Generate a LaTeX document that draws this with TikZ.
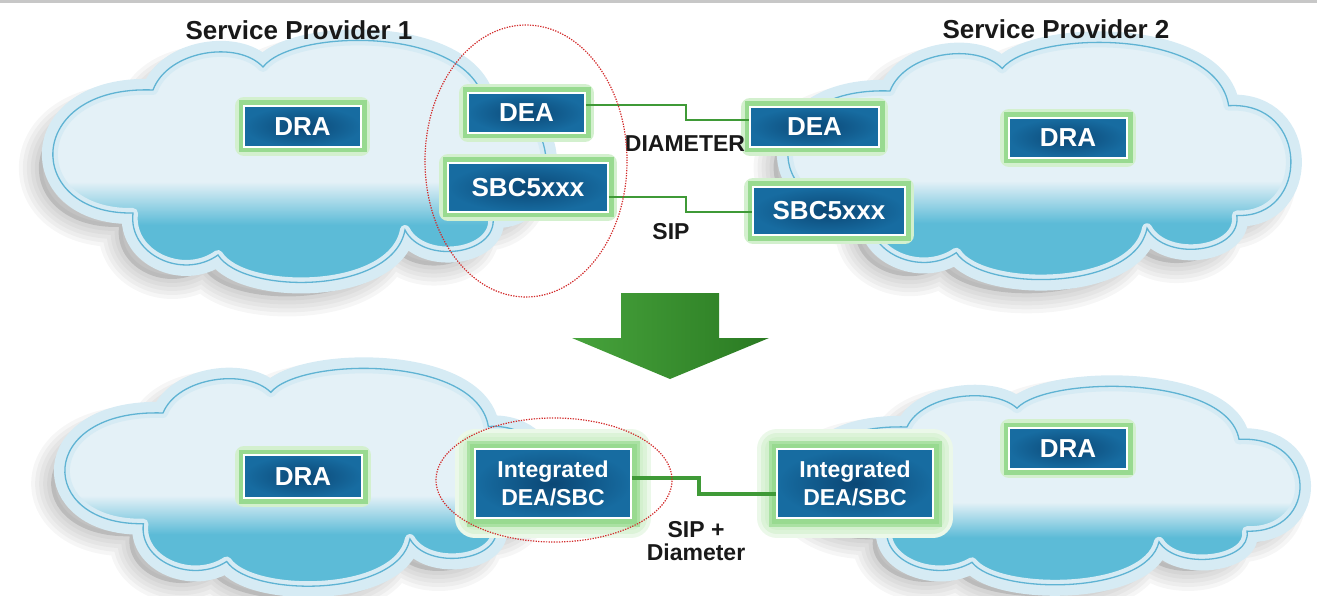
\documentclass[tikz,border=0pt]{standalone}
\usepackage{fontspec}
\setmainfont{Liberation Sans}
\usetikzlibrary{calc}
\definecolor{boxblue}{HTML}{176CA1}
\definecolor{boxdark}{HTML}{0B4775}
\definecolor{glowgreen}{HTML}{98DA90}
\definecolor{glowsoft}{HTML}{D3F0CE}
\definecolor{linkgreen}{HTML}{3F9A37}
\definecolor{cloudlight}{HTML}{E4F1F7}
\definecolor{clouddark}{HTML}{5CBBD7}
\definecolor{cloudhalo}{HTML}{D6EBF4}
\definecolor{cloudedge}{HTML}{5FB3D3}
\definecolor{ringred}{HTML}{D22B2B}
\definecolor{arrowlight}{HTML}{47A33C}
\definecolor{arrowdark}{HTML}{2A7A22}
\pgfdeclareverticalshading{cloudfill}{100bp}{color(0bp)=(clouddark); color(38bp)=(clouddark); color(46bp)=(cloudlight); color(100bp)=(cloudlight)}
\newcommand{\cloudline}{(100,50) .. controls (115,10) and (185,0) .. (210,27) .. controls (240,-12) and (420,-15) .. (432,65) .. controls (512,60) and (512,180) .. (440,177) .. controls (445,215) and (370,225) .. (352,190) .. controls (340,255) and (190,255) .. (165,215) .. controls (130,240) and (75,215) .. (80,173) .. controls (-30,175) and (-30,45) .. (100,50) -- cycle}
\newcommand{\drawcloud}[3]{%
	\begin{scope}[shift={#1},xscale=#2,yscale=#3]
		\foreach \w in {8,16,...,40}{\draw[black,opacity=0.035,line width=\w pt,line join=round,shift={(-14,14)}] \cloudline;}
		\fill[black,opacity=0.12,shift={(-14,14)}] \cloudline;
		\draw[cloudhalo,line width=22pt,line join=round] \cloudline;
		\path[shading=cloudfill] \cloudline;
		\draw[cloudhalo,line width=10pt,line join=round] \cloudline;
		\draw[cloudedge,line width=1.3pt] \cloudline;
	\end{scope}}
\tikzset{
	unit/.style={shade,inner color=boxdark,outer color=boxblue,draw=white,line width=1.8pt,text=white,inner sep=0pt,font=\fontsize{26}{28}\selectfont\bfseries},
	box/.style={preaction={draw=glowsoft,line width=18pt,line join=round},preaction={draw=glowgreen,line width=11pt},unit},
	combo/.style={preaction={draw=glowsoft!45!white,line width=40pt,line join=round},preaction={draw=glowsoft!80!white,line width=32pt,line join=round},preaction={draw=glowsoft,line width=24pt,line join=round},preaction={draw=glowgreen!70!glowsoft,line width=17pt},preaction={draw=glowgreen,line width=11pt},unit,align=center,font=\fontsize{23}{28}\selectfont\bfseries},
	title/.style={inner sep=0pt,text=black!90,font=\fontsize{26}{28}\selectfont\bfseries},
	tag/.style={inner sep=0pt,text=black!90,font=\fontsize{23}{23}\selectfont\bfseries},
	link/.style={draw=linkgreen,line width=2pt},
	ring/.style={draw=ringred,line width=1.2pt,dash pattern=on 1.3pt off 1.3pt},
}
\begin{document}
\begin{tikzpicture}[x=1pt,y=-1pt]
	\useasboundingbox (0,0) rectangle (1317,596);
	\fill[black!22] (0,0) rectangle (1317,3);
	
	\drawcloud{(53,40)}{1}{1}
	\drawcloud{(788,42)}{1.02}{0.98}
	\drawcloud{(65,368)}{0.98}{0.9}
	\drawcloud{(807,386)}{1}{0.82}
	
	\node (sp1) at (299,30) [title] {Service Provider 1};
	\node (sp2) at (1056,29) [title] {Service Provider 2};
	
	\node (draL) at (302.5,126.5) [box,minimum width=117pt,minimum height=41pt] {DRA};
	\node (deaL) at (526.5,113) [box,minimum width=117pt,minimum height=40pt] {DEA};
	\node (sbcL) at (528,187.5) [box,minimum width=160pt,minimum height=49pt] {SBC5xxx};
	\node (deaR) at (814.5,127) [box,minimum width=129pt,minimum height=40pt] {DEA};
	\node (sbcR) at (829,211) [box,minimum width=152pt,minimum height=48pt] {SBC5xxx};
	\node (draR) at (1068,138) [box,minimum width=118pt,minimum height=40pt] {DRA};
	
	\draw[link] ($(deaL.east)+(0,-8)$) -- ++(100,0) |- ($(deaR.west)+(0,-7)$);
	\draw[link] ($(sbcL.east)+(0,9.5)$) -- ++(77,0) |- ($(sbcR.west)+(0,1)$);
	\node (diam) at (685,143.5) [tag] {DIAMETER};
	\node (sip) at (671,232) [tag] {SIP};
	
	\draw[ring] (526,161) ellipse [x radius=101pt,y radius=136pt];
	
	\shade[left color=arrowlight,right color=arrowdark] (621,293) -- (719,293) -- (719,338) -- (769,338) -- (670,379) -- (572,338) -- (621,338) -- cycle;
	
	\node (draBL) at (303,476.5) [box,minimum width=118pt,minimum height=43pt] {DRA};
	\node (intL) at (553,483.5) [combo,minimum width=156pt,minimum height=69pt] {Integrated\\DEA/SBC};
	\node (intR) at (855,483.5) [combo,minimum width=156pt,minimum height=69pt] {Integrated\\DEA/SBC};
	\node (draBR) at (1068,448.5) [box,minimum width=118pt,minimum height=41pt] {DRA};
	
	\draw[link,line width=3.5pt] ($(intL.east)+(0,-5.5)$) -- ++(67,0) |- ($(intR.west)+(0,10.5)$);
	\node (both) at (696,541) [tag,align=center] {SIP +\\Diameter};
	
	\draw[ring] (554,480) ellipse [x radius=118pt,y radius=62pt];
\end{tikzpicture}
\end{document}
